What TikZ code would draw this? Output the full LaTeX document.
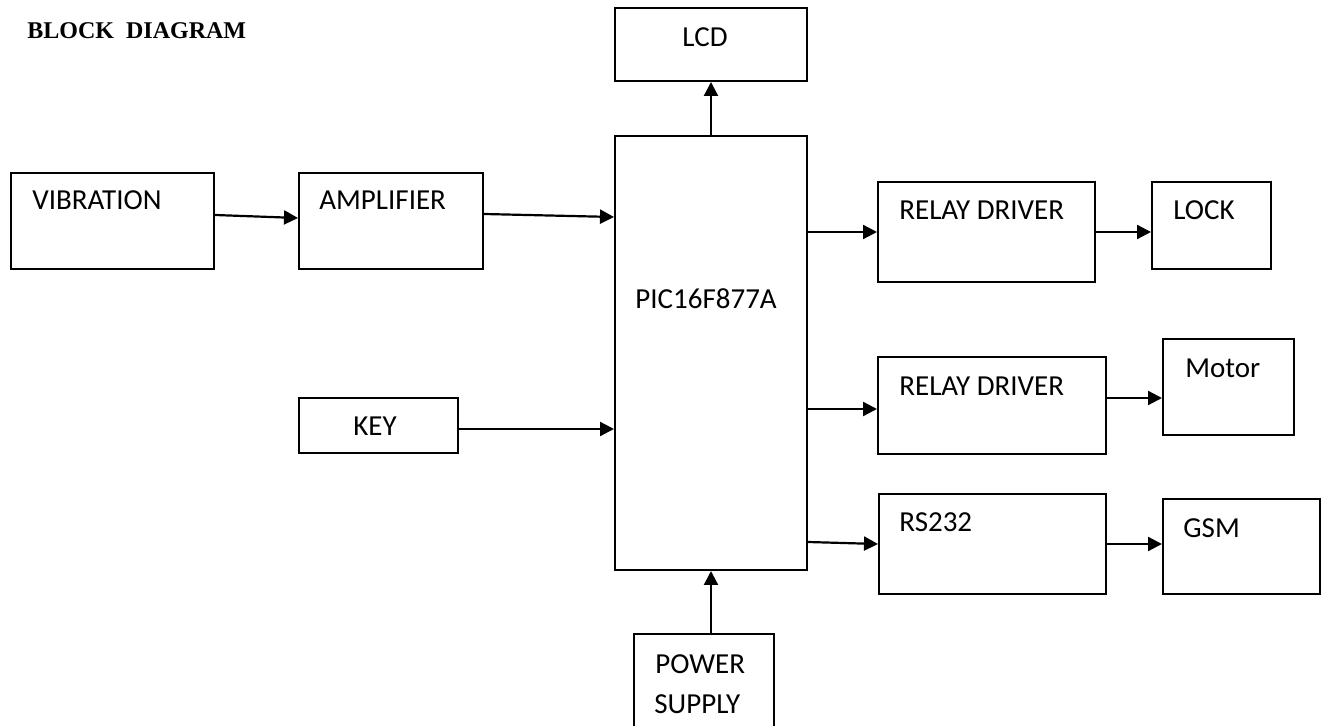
\documentclass[tikz,border=0pt]{standalone}
\usepackage{fontspec}
\setmainfont{Carlito}
\newfontfamily\titlefont{Liberation Serif}
\usepackage{tikz}
\usetikzlibrary{arrows.meta,positioning}

\begin{document}
\begin{tikzpicture}[x=0.5pt, y=-0.5pt, font=\fontsize{14.5}{20}\selectfont,
  blk/.style={draw, line width=1pt, inner sep=0pt, anchor=north west},
  lbl/.style={anchor=base west, inner sep=0pt},
  arr/.style={-{Triangle[length=7pt,width=7pt]}, line width=1.1pt}]
  \path[use as bounding box, fill=white] (0,0) rectangle (1322,726);
  \clip (0,0) rectangle (1322,726);

  \node[lbl, font=\titlefont\bfseries\fontsize{12}{14}\selectfont] (title) at (27,39) {BLOCK~~DIAGRAM};

  % boxes
  \node[blk, minimum width=101.5pt, minimum height=48pt] (vib) at (10,172) {};
  \node[blk, minimum width=92pt, minimum height=48pt] (amp) at (298,172) {};
  \node[blk, minimum width=96pt, minimum height=36.5pt] (lcd) at (614,7) {};
  \node[blk, minimum width=96pt, minimum height=217pt] (pic) at (614,135) {};
  \node[blk, minimum width=79.5pt, minimum height=27.5pt] (key) at (298,397) {};
  \node[blk, minimum width=70pt, minimum height=55pt] (pwr) at (633,633) {};
  \node[blk, minimum width=108.5pt, minimum height=50pt] (rd1) at (877,181) {};
  \node[blk, minimum width=59.5pt, minimum height=43.5pt] (lock) at (1151,181) {};
  \node[blk, minimum width=114pt, minimum height=48.5pt] (rd2) at (877,356) {};
  \node[blk, minimum width=65.5pt, minimum height=48pt] (motor) at (1162,338) {};
  \node[blk, minimum width=113.5pt, minimum height=50pt] (rs) at (878,493) {};
  \node[blk, minimum width=78.5pt, minimum height=47.5pt] (gsm) at (1162,498) {};

  % labels
  \node[lbl] (vibtxt) at (32,210) {VIBRATION};
  \node[lbl] (amptxt) at (319,210) {AMPLIFIER};
  \node[lbl] (lcdtxt) at (682,47) {LCD};
  \node[lbl] (pictxt) at (635,309) {PIC16F877A};
  \node[lbl] (keytxt) at (353,436) {KEY};
  \node[lbl] (pwrtxt1) at (655,673) {POWER};
  \node[lbl] (pwrtxt2) at (654,713) {SUPPLY};
  \node[lbl] (rd1txt) at (899,220) {RELAY DRIVER};
  \node[lbl] (locktxt) at (1173,220) {LOCK};
  \node[lbl] (rd2txt) at (899,396) {RELAY DRIVER};
  \node[lbl] (motortxt) at (1185,378) {Motor};
  \node[lbl] (rstxt) at (899,532) {RS232};
  \node[lbl] (gsmtxt) at (1183,538) {GSM};

  % connectors
  \draw[arr] ([yshift=3pt]vib.east) -- ([yshift=1.5pt]amp.west);
  \draw[arr] ([yshift=3.5pt]amp.east) -- ([yshift=2pt]amp.east -| pic.west);
  \draw[arr] ([yshift=-1.75pt]key.east) -- ([yshift=-1.75pt]key.east -| pic.west);
  \draw[arr] (pic.north) -- (lcd.south);
  \draw[arr] (pic.south |- pwr.north) -- (pic.south);
  \draw[arr] (rd1.west -| pic.east) -- (rd1.west);
  \draw[arr] (rd1.east) -- (rd1.east -| lock.west);
  \draw[arr] ([yshift=-1.75pt]rd2.west -| pic.east) -- ([yshift=-1.75pt]rd2.west);
  \draw[arr] ([yshift=3.75pt]rd2.east) -- ([yshift=3.75pt]rd2.east -| motor.west);
  \draw[arr] ([yshift=1pt]rs.west -| pic.east) -- (rs.west);
  \draw[arr] (rs.east) -- (rs.east -| gsm.west);
\end{tikzpicture}
\end{document}
